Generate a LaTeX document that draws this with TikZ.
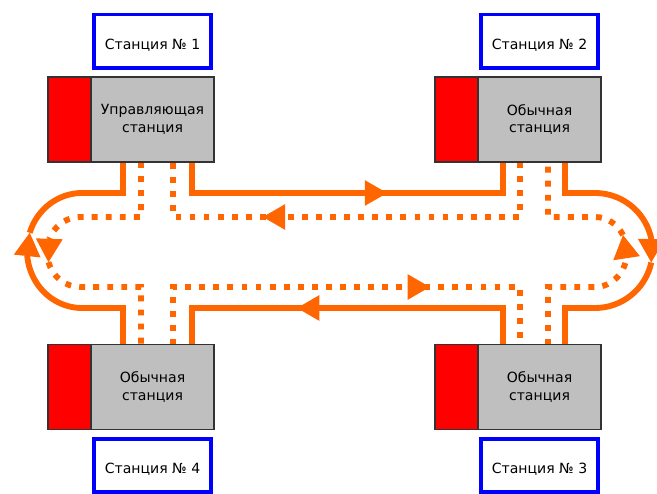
\documentclass[tikz,border=0pt]{standalone}
\usepackage{fontspec}
\setmainfont{DejaVu Sans}
\usetikzlibrary{positioning,arrows.meta,bending,decorations.markings}
\definecolor{ring}{HTML}{FF6600}
\begin{document}
\begin{tikzpicture}[x=.3mm,y=-.3mm,
    every node/.style={outer sep=0pt},
    redpart/.style={draw=black!80,line width=1.2pt,fill=red,minimum width=12.9mm,minimum height=25.5mm},
    graypart/.style={draw=black!80,line width=1.2pt,fill=black!25,minimum width=36.9mm,minimum height=25.5mm,
      align=center,inner sep=0pt,font=\fontsize{12}{15}\selectfont},
    namebox/.style={draw=blue,line width=3pt,fill=white,minimum width=35mm,minimum height=16mm,
      text height=14pt,text depth=0pt,font=\fontsize{12}{15}\selectfont},
    wire/.style={color=ring,line width=5pt},
    dotwire/.style={wire,dash pattern=on 5pt off 7pt},
    tri/.style={-{Triangle[length=20pt,width=23pt,line width=0pt]}},
    tip/.style={postaction={decorate},decoration={markings,
      mark=at position #1 with {\arrow{Triangle[length=19pt,width=22pt,line width=0pt]}}}}]
  \useasboundingbox (0,0) rectangle (657,493);
  \foreach \n/\a/\b/\c/\d/\y in {1/123/141/173/192/162, 2/503/520/548/565/162,
      3/503/520/548/565/345, 4/123/141/173/192/345}{
    \coordinate (s\n a) at (\a,\y);
    \coordinate (s\n b) at (\b,\y);
    \coordinate (s\n c) at (\c,\y);
    \coordinate (s\n d) at (\d,\y);
  }
  % outer ring
  \draw[wire,tip=.606] (s1d) -- ++(0,31) -| (s2a);
  \draw[wire,tri] (s2d) -- ++(0,31) -- ++(30,0)
    arc[start angle=-90,end angle=12,radius=57.5] coordinate (ra);
  \draw[wire] (ra) arc[start angle=12,end angle=90,radius=57.5] -| (s3d);
  \draw[wire,tip=.631] (s3a) -- ++(0,-37) -| (s4d);
  \draw[wire,tri] (s4a) -- ++(0,-37) -- ++(-41,0)
    arc[start angle=90,end angle=198,x radius=55,y radius=57.5] coordinate (la);
  \draw[wire] (la) arc[start angle=198,end angle=270,x radius=55,y radius=57.5] -| (s1a);
  % inner ring
  \draw[dotwire,tip=.683] (s2b) -- ++(0,55) -| (s1c);
  \draw[dotwire,tri] (s1b) -- ++(0,55) -- ++(-61,0)
    arc[start angle=270,end angle=163,x radius=33,y radius=35] coordinate (lb);
  \draw[dotwire] (lb) arc[start angle=163,end angle=90,x radius=33,y radius=35] -| (s4b);
  \draw[dotwire,tip=.68] (s4c) -- ++(0,-58) -| (s3b);
  \draw[dotwire,tri] (s3c) -- ++(0,-58) -- ++(47,0)
    arc[start angle=90,end angle=-29,x radius=32,y radius=35] coordinate (rb);
  \draw[dotwire] (rb) arc[start angle=-29,end angle=-90,x radius=32,y radius=35] -| (s2c);
  % stations
  \foreach \n/\x/\y/\t in {1/69.5/119.5/Управляющая, 2/456.5/119.5/Обычная,
      3/456.5/387/Обычная, 4/69.5/387/Обычная}{
    \node[redpart] (r\n) at (\x,\y) {};
    \node[graypart,right=0pt of r\n] (g\n) {\t\\станция};
  }
  \node[namebox,above=2.7mm of g1] (n1) {Станция № 1};
  \node[namebox,above=2.7mm of g2] (n2) {Станция № 2};
  \node[namebox,below=2.8mm of g3] (n3) {Станция № 3};
  \node[namebox,below=2.8mm of g4] (n4) {Станция № 4};
\end{tikzpicture}
\end{document}
